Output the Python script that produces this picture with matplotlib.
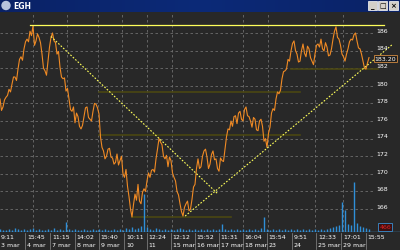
import numpy as np
import matplotlib
matplotlib.use("Agg")
import matplotlib.pyplot as plt
from matplotlib.transforms import blended_transform_factory
from matplotlib.patches import Rectangle

# price series (one point per bar)
prices = [178.5, 177.2, 177.6, 178.4, 178.7, 178.9, 179.6, 179.3, 180.2, 181.0,
          181.0, 180.6, 181.9, 183.0, 183.3, 182.9, 184.2, 185.0, 185.3, 185.0,
          186.2, 185.7, 186.8, 184.6, 185.1, 185.9, 185.5, 184.9, 183.6, 182.0,
          181.7, 181.2, 182.8, 184.4, 185.5, 186.0, 185.1, 184.9, 183.6, 183.9,
          182.1, 181.0, 180.8, 180.9, 179.4, 179.7, 178.5, 177.3, 177.1, 177.6,
          175.8, 176.9, 176.5, 175.4, 175.1, 175.5, 176.5, 177.5, 177.6, 176.4,
          176.2, 176.0, 177.1, 178.0, 177.9, 177.5, 176.8, 174.2, 173.0, 172.6,
          171.7, 172.0, 172.8, 172.9, 171.9, 171.8, 171.1, 171.3, 172.25, 171.0,
          171.5, 172.0, 170.0, 169.6, 170.5, 168.6, 167.4, 166.0, 165.1, 166.5,
          167.7, 167.0, 168.8, 166.9, 166.6, 167.9, 168.3, 168.0, 169.2, 170.1,
          169.6, 170.4, 170.5, 170.2, 171.7, 172.8, 174.0, 173.6, 173.3, 172.0,
          171.7, 172.1, 170.8, 171.9, 171.5, 170.1, 169.6, 169.2, 168.0, 167.6,
          166.6, 165.7, 165.2, 166.2, 166.6, 166.9, 165.8, 166.0, 167.1, 168.5,
          168.8, 170.6, 171.7, 170.6, 170.8, 172.0, 172.6, 172.8, 171.9, 170.6,
          171.1, 172.2, 172.6, 171.6, 171.7, 170.6, 170.3, 171.8, 171.5, 171.4,
          172.8, 174.2, 175.1, 175.0, 176.0, 175.4, 176.5, 176.6, 175.7, 176.9,
          177.1, 176.2, 176.0, 177.3, 177.6, 176.6, 176.5, 176.0, 175.3, 176.4,
          176.2, 175.0, 174.9, 176.0, 176.2, 175.4, 173.7, 174.0, 173.0, 174.6,
          175.3, 176.9, 177.4, 177.2, 178.5, 179.3, 179.1, 179.5, 180.8, 181.6,
          181.7, 181.9, 183.0, 182.8, 183.95, 184.8, 185.1, 184.0, 183.6, 182.7,
          182.8, 184.0, 184.75, 183.7, 183.3, 184.5, 184.2, 183.2, 182.8, 182.4,
          183.6, 184.6, 184.75, 184.4, 185.3, 184.2, 183.95, 184.9, 184.4, 183.4,
          183.5, 184.2, 185.3, 186.2, 186.7, 185.5, 185.3, 184.6, 183.6, 183.3,
          182.8, 183.6, 184.2, 185.0, 185.3, 185.2, 185.8, 186.0, 185.1, 184.3,
          184.2, 183.6, 182.8, 182.0, 181.9, 182.6, 183.2]

# volume, one value every second bar
volumes = [3, 2, 2, 3, 2, 4, 3, 2, 3, 2, 3, 4, 2, 3, 2, 2, 3, 2, 4, 2,
           3, 2, 10, 3, 2, 3, 2, 2, 3, 2, 2, 3, 2, 3, 2, 3, 2, 2, 3, 2,
           3, 2, 4, 3, 5, 3, 4, 6, 38, 5, 3, 2, 4, 3, 2, 3, 2, 3, 2, 3,
           4, 3, 2, 3, 2, 3, 2, 3, 2, 3, 2, 3, 2, 3, 8, 3, 2, 3, 2, 3,
           2, 3, 2, 3, 2, 3, 2, 4, 15, 3, 2, 3, 2, 3, 2, 3, 2, 3, 2, 3,
           2, 3, 2, 3, 2, 3, 2, 3, 2, 3, 4, 5, 6, 7, 30, 22, 8, 7, 50, 9,
           6, 5, 4, 3]

price_ticks = [166, 168, 170, 172, 174, 176, 178, 180, 182, 184, 186]
last_price = 183.20

# trend lines (bar index, price)
resistance = ([20, 256], [186.9, 186.9])
down_trend = ([34, 145.4], [185.6, 167.7])
up_trend = ([123.4, 262], [165.2, 184.75])
# retracement levels: (price, start bar, end bar)
levels = [(181.9, 194, 252), (179.3, 66, 200), (174.4, 66, 200), (165.1, 88, 154)]

grid_x = [22, 44.6, 65.4, 81.4, 98, 114.6, 162, 178.6, 210, 228.6]

tick_pos = [0, 17.4, 34, 50.6, 66.6, 83.4, 98.6, 114.6, 130.6, 146.6, 162.6, 178.6,
            195.4, 211.4, 228, 244.6]
time_labels = ["9:11", "15:45", "11:15", "14:02", "15:40", "10:11", "12:24",
               "12:12", "15:52", "11:31", "16:04", "15:54", "9:51", "12:33",
               "17:01", "15:55"]
date_labels = ["3 mar", "4 mar", "7 mar", "8 mar", "9 mar", "10", "11",
               "15 mar", "16 mar", "17 mar", "18 mar", "23", "24", "25 mar",
               "29 mar", ""]

bg = "#282828"
fig = plt.figure(figsize=(4, 2.51), dpi=100, facecolor=bg)

# title bar
tb = fig.add_axes([0, 1 - 13 / 251, 1, 13 / 251])
grad = np.linspace(0, 1, 256).reshape(1, -1)
tb.imshow(grad, aspect="auto", cmap=matplotlib.colors.LinearSegmentedColormap.from_list(
    "tb", ["#0a2266", "#0c2a78", "#0a2266"]), extent=[0, 400, 0, 13])
tb.set_xlim(0, 400)
tb.set_ylim(0, 13)
tb.axis("off")
tb.add_patch(plt.Circle((6, 6.5), 4, color="#b8c4dc"))
tb.text(13, 6.5, "EGH", color="white", fontsize=5.5, fontweight="bold", va="center")
for bx, sym in [(368, "_"), (378, "\u25a1"), (389, "\u00d7")]:
    tb.add_patch(Rectangle((bx, 2), 9, 9, facecolor="#d4d0c8", edgecolor="#ffffff", lw=0.5))
    tb.text(bx + 4.5, 6.5, sym, color="black", fontsize=5, ha="center", va="center",
            fontweight="bold")

# main chart
ax = fig.add_axes([0, 18 / 251, 1, 219 / 251])
ax.set_facecolor(bg)
ax.set_xlim(0, 266.67)
ax.set_ylim(163.39, 188.27)
for s in ax.spines.values():
    s.set_visible(False)
ax.set_xticks([])
ax.set_yticks([])

ax.hlines(price_ticks, 0, 250, colors="#6e6e6e", linestyles=(0, (3, 3)), lw=0.6)
ax.vlines(grid_x, 163.39, 188.27, colors="#6e6e6e", linestyles=(0, (3, 3)), lw=0.6)
for p in price_ticks:
    ax.text(255, p + 0.3, str(p), color="white", fontsize=4.5, ha="center", va="center")

for lv, a, b in levels:
    ax.plot([a, b], [lv, lv], color="#4a4712", lw=1.2)

idx = np.arange(len(prices))
ax.plot(idx, prices, color="#f08a24", lw=0.8)

ax.plot(*resistance, color="#ffff5a", lw=0.9)
ax.plot(*down_trend, color="#ffff5a", lw=0.8, linestyle=(0, (1.5, 1.5)))
ax.plot(*up_trend, color="#ffff5a", lw=0.8, linestyle=(0, (1.5, 1.5)))

ax.text(257, last_price - 0.1, f"{last_price:.2f}", color="white", fontsize=4.5,
        ha="center", va="center",
        bbox=dict(facecolor="#1e1e1e", edgecolor="#d08a40", lw=0.6, pad=0.8))

# volume
vax = fig.add_axes([0, 18 / 251, 1, 219 / 251], sharex=ax)
vax.patch.set_visible(False)
vax.set_ylim(0, 219)
vax.axis("off")
vax.vlines(np.arange(len(volumes)) * 2, 0, volumes, colors="#2f8fd8", lw=1.0)
vax.axhline(0, color="#3a90d0", lw=1.0)
vax.text(257, 5, "466", color="#e02020", fontsize=4.5, ha="center", va="center",
         bbox=dict(facecolor="#3a1010", edgecolor="#3a90d0", lw=0.6, pad=0.8))

# time / date rows
tr = blended_transform_factory(ax.transData, fig.transFigure)
for pos, t, d in zip(tick_pos, time_labels, date_labels):
    ax.text(pos + 0.6, 13.5 / 251, t, color="white", fontsize=4.5, transform=tr,
            ha="left", va="center", clip_on=False)
    ax.text(pos + 0.6, 5 / 251, d, color="white", fontsize=4.5, transform=tr,
            ha="left", va="center", clip_on=False)
    if pos > 0:
        ax.plot([pos - 0.6, pos - 0.6], [1 / 251, 17 / 251], color="#8a8a8a", lw=0.5,
                transform=tr, clip_on=False)

fig.savefig("out.png", dpi=100, facecolor=bg)
